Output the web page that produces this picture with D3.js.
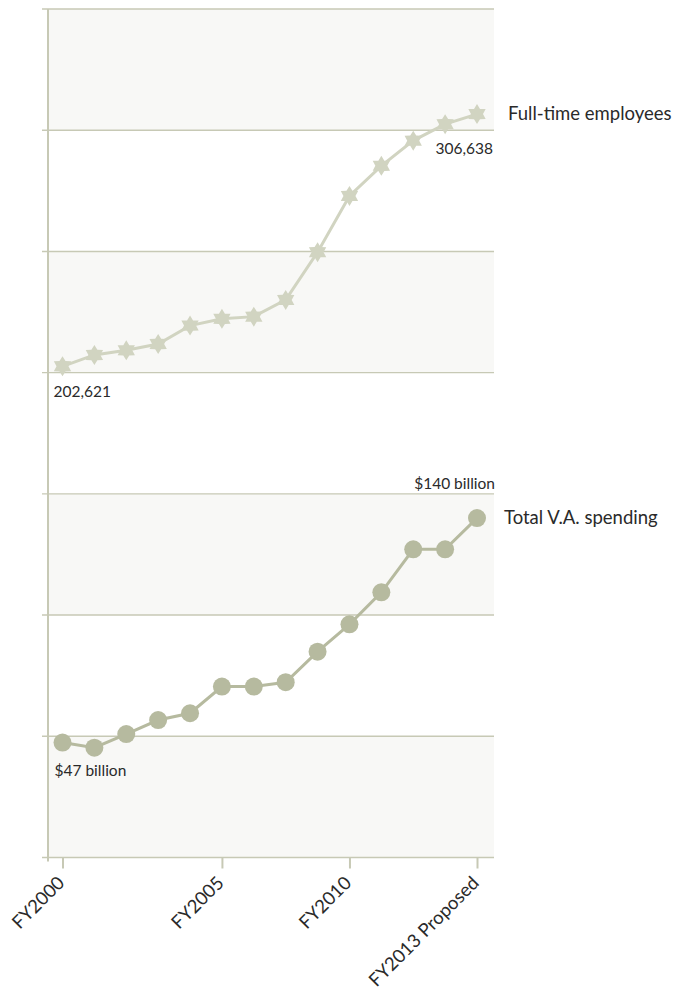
<!DOCTYPE html>
<html>
<head>
<meta charset="utf-8">
<script src="https://cdn.jsdelivr.net/npm/d3@7"></script>
<style>
  html, body { margin: 0; padding: 0; background: #ffffff; }
  svg { display: block; font-family: Lato, "Open Sans", sans-serif; font-weight: 400; }
</style>
</head>
<body>
<svg id="chart" width="678" height="994"></svg>
<script>
// ---- data ----
const categories = ["P00","P01","P02","P03","P04","P05","P06","P07","P08","P09","P10","P11","P12","P13"];
// Full-time employees, thousands
const employees = [202.621, 207.3, 209.2, 211.8, 219.4, 222.2, 223.1, 230.0, 249.7, 272.9, 285.3, 295.7, 302.5, 306.638];
// Total V.A. spending, billions of dollars
const spending = [47.4, 45.3, 50.9, 56.7, 59.5, 70.5, 70.5, 72.3, 84.9, 96.2, 109.4, 127.1, 127.1, 140];
const tickCategories = ["P00", "P05", "P09", "P13"];
const tickLabels = ["FY2000", "FY2005", "FY2010", "FY2013 Proposed"];
const gridValues = [0, 50, 100, 150, 200, 250, 300, 350];
const seriesNames = ["Full-time employees", "Total V.A. spending"];
const endLabels = ["202,621", "306,638", "$47 billion", "$140 billion"];

// ---- layout ----
const plotL = 48, plotR = 494, plotT = 9, plotB = 857.5;
const svg = d3.select("#chart");

const x = d3.scalePoint().domain(categories).range([62.5, 477]);
const y = d3.scaleLinear().domain([0, 350]).range([plotB, plotT]);

const gridColor = "#c7c9b5";
const bandFill = "#f8f8f6";
const starColor = "#d1d4c1";
const dotColor = "#b6ba9f";
const textColor = "#2a2a2a";

// shaded bands
const bands = [];
for (let i = 0; i < gridValues.length - 1; i += 2) bands.push([gridValues[i], gridValues[i + 1]]);
svg.append("g").selectAll("rect").data(bands).join("rect")
  .attr("x", plotL).attr("width", plotR - plotL)
  .attr("y", d => y(d[1])).attr("height", d => y(d[0]) - y(d[1]))
  .attr("fill", bandFill);

// gridlines
svg.append("g").selectAll("line").data(gridValues).join("line")
  .attr("x1", plotL - 6).attr("x2", plotR)
  .attr("y1", d => y(d)).attr("y2", d => y(d))
  .attr("stroke", gridColor).attr("stroke-width", 1.4);

// y axis line
svg.append("line")
  .attr("x1", plotL).attr("x2", plotL)
  .attr("y1", plotT).attr("y2", plotB + 4)
  .attr("stroke", gridColor).attr("stroke-width", 2);

// x axis
const xAxis = d3.axisBottom(x)
  .tickValues(tickCategories)
  .tickFormat(d => tickLabels[tickCategories.indexOf(d)])
  .tickSizeInner(11).tickSizeOuter(0).tickPadding(0);
const gx = svg.append("g").attr("transform", `translate(0,${plotB})`).call(xAxis);
gx.select(".domain").remove();
gx.selectAll(".tick line").attr("stroke", gridColor).attr("stroke-width", 2);
gx.selectAll(".tick text")
  .attr("fill", textColor)
  .attr("font-size", 18.5)
  .attr("font-family", "Lato, sans-serif")
  .attr("font-weight", 400)
  .attr("text-anchor", "end")
  .attr("transform", "translate(-2,22) rotate(-45)")
  .attr("dy", "0.35em")
  .attr("y", 0);

// lines
const line = d3.line().x((d, i) => x(categories[i])).y(d => y(d));
svg.append("path").datum(employees).attr("d", line)
  .attr("fill", "none").attr("stroke", starColor).attr("stroke-width", 3);
svg.append("path").datum(spending).attr("d", line)
  .attr("fill", "none").attr("stroke", dotColor).attr("stroke-width", 3);

// six-pointed star symbol
const star6 = {
  draw(ctx, size) {
    const R = Math.sqrt(size), r = R * 0.6;
    for (let i = 0; i < 12; i++) {
      const a = -Math.PI / 2 + i * Math.PI / 6;
      const rad = i % 2 === 0 ? R : r;
      const px = rad * Math.cos(a), py = rad * Math.sin(a);
      if (i === 0) ctx.moveTo(px, py); else ctx.lineTo(px, py);
    }
    ctx.closePath();
  }
};
svg.append("g").selectAll("path").data(employees).join("path")
  .attr("transform", (d, i) => `translate(${x(categories[i])},${y(d)})`)
  .attr("d", d3.symbol().type(star6).size(100))
  .attr("fill", starColor);

svg.append("g").selectAll("circle").data(spending).join("circle")
  .attr("cx", (d, i) => x(categories[i])).attr("cy", d => y(d))
  .attr("r", 9).attr("fill", dotColor);

// series labels
const last = categories.length - 1;
svg.append("text").text(seriesNames[0])
  .attr("x", x(categories[last]) + 31).attr("y", y(employees[last]) + 6)
  .attr("font-size", 18.5).attr("fill", textColor);
svg.append("text").text(seriesNames[1])
  .attr("x", x(categories[last]) + 27).attr("y", y(spending[last]) + 6)
  .attr("font-size", 18.5).attr("fill", textColor);

// value labels
const vl = svg.append("g").attr("font-size", 15.5).attr("fill", textColor);
vl.append("text").text(endLabels[0])
  .attr("x", x(categories[0]) - 9).attr("y", y(employees[0]) + 31);
vl.append("text").text(endLabels[1])
  .attr("x", plotR - 1).attr("y", y(employees[last]) + 40).attr("text-anchor", "end");
vl.append("text").text(endLabels[2])
  .attr("x", x(categories[0]) - 8).attr("y", y(spending[0]) + 33);
vl.append("text").text(endLabels[3])
  .attr("x", plotR + 1).attr("y", y(spending[last]) - 29).attr("text-anchor", "end");
</script>
</body>
</html>
